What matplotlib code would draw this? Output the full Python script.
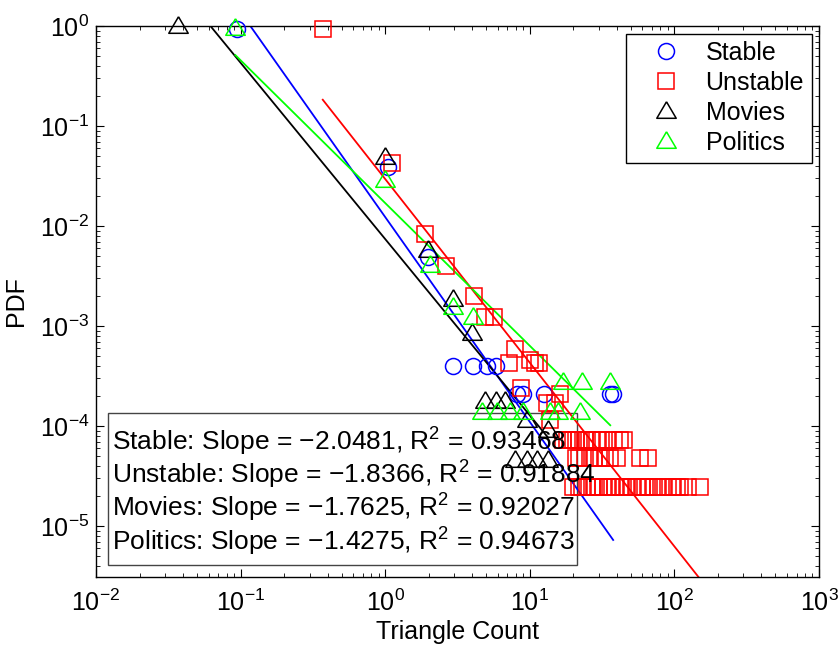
import matplotlib
matplotlib.use("Agg")
import matplotlib.pyplot as plt
from matplotlib.ticker import LogLocator, NullFormatter
from matplotlib.patches import Rectangle
import numpy as np

plt.rcParams['font.family'] = ['Liberation Sans', 'DejaVu Sans']
plt.rcParams['mathtext.fontset'] = 'custom'
plt.rcParams['mathtext.rm'] = 'Liberation Sans'
plt.rcParams['mathtext.it'] = 'Liberation Sans:italic'
plt.rcParams['mathtext.bf'] = 'Liberation Sans:bold'

# Stable
stable_x = [0.095, 1.05, 1.98, 2.95, 4.06, 5.07, 5.86, 8.2, 9.0, 12.6, 36, 37.7]
stable_y = [0.93, 0.039, 0.0049, 4e-4, 4e-4, 4e-4, 4e-4, 2.1e-4, 2.1e-4, 2.1e-4, 2.1e-4, 2.1e-4]

# Unstable
unstable_x = [0.37, 1.12, 1.89, 2.64, 4.12, 4.9, 5.67, 7.2, 7.9, 8.7, 10, 10.9, 11.6,
              13.2, 13.8, 15, 16.2]
unstable_y = [0.93, 0.043, 0.0083, 0.004, 0.002, 0.00123, 0.00123, 4.3e-4, 5.9e-4,
              2.4e-4, 4.6e-4, 4.3e-4, 4.3e-4, 1.7e-4, 1.15e-4, 1.7e-4, 2.1e-4]
unstable_x3 = [17, 18, 19, 20, 21, 22, 24, 25, 27, 29, 31, 34, 38, 42, 45]
unstable_x2 = [21, 22, 24, 26, 28, 30, 33, 36, 40, 58, 66]
unstable_x1 = [20, 22, 23, 25, 27, 28, 30, 32, 35, 37, 39, 42, 44, 47, 51, 55, 60,
               63, 67, 72, 77, 83, 90, 97, 105, 110, 124, 150]
unstable_row_y = [7.2e-5, 4.8e-5, 2.45e-5]

# Movies
movies_x = [0.037, 1.0, 1.98, 2.95, 4.0, 4.9, 5.8, 6.7, 9.6, 13.4, 7.9, 9.6, 11.2, 13.4]
movies_y = [1.0, 0.049, 0.0058, 0.00186, 8.5e-4, 1.8e-4, 1.8e-4, 1.8e-4, 1.15e-4,
            9.1e-5, 4.6e-5, 4.6e-5, 4.6e-5, 4.6e-5]

# Politics
politics_x = [0.092, 1.0, 2.05, 2.95, 4.05, 17, 23, 36, 4.69, 5.95, 7.3, 9.0, 13.8, 15.7, 22.3]
politics_y = [0.95, 0.029, 0.0041, 0.00155, 0.00123, 2.75e-4, 2.75e-4, 2.75e-4,
              1.38e-4, 1.38e-4, 1.38e-4, 1.38e-4, 1.38e-4, 1.38e-4, 1.38e-4]

names = ["Stable", "Unstable", "Movies", "Politics"]
slopes = [-2.0481, -1.8366, -1.7625, -1.4275]
r2 = [0.93468, 0.91884, 0.92027, 0.94673]
log_intercepts = [-1.91, -1.53, -2.13, -1.77]

colors = ["#0000ff", "#ff0000", "#000000", "#00ff00"]

# triangle un peu plus large que haut, comme sous MATLAB
tri = [(0, 1), (-1, -0.7), (1, -0.7), (0, 1)]

unstable_all_x = unstable_x + unstable_x3 + unstable_x2 + unstable_x1
unstable_all_y = (unstable_y + [unstable_row_y[0]] * len(unstable_x3)
                  + [unstable_row_y[1]] * len(unstable_x2)
                  + [unstable_row_y[2]] * len(unstable_x1))

series = [
    (stable_x, stable_y, 'o', 11.5),
    (unstable_all_x, unstable_all_y, 's', 11),
    (movies_x, movies_y, tri, 14),
    (politics_x, politics_y, tri, 14),
]

FS = 18

fig = plt.figure(figsize=(8.39, 6.47), dpi=100)
ax = fig.add_axes([0.1144, 0.1082, 0.8618, 0.8516])

handles = []
for (xs, ys, m, ms), c, name in zip(series, colors, names):
    h, = ax.plot(xs, ys, linestyle='none', marker=m, markersize=ms,
                 markerfacecolor='none', markeredgecolor=c, markeredgewidth=1.1,
                 label=name, clip_on=False, zorder=3)
    handles.append(h)

# droites de regression
for (xs, ys, m, ms), c, b, a in zip(series, colors, slopes, log_intercepts):
    xx = np.array([min(xs), max(xs)])
    yy = 10 ** a * xx ** b
    ax.plot(xx, yy, color=c, linewidth=1.3, zorder=2)

ax.set_xscale('log')
ax.set_yscale('log')
ax.set_xlim(1e-2, 1e3)
ax.set_ylim(3.1e-6, 1)

for axis in (ax.xaxis, ax.yaxis):
    axis.set_major_locator(LogLocator(base=10, numticks=20))
    axis.set_minor_locator(LogLocator(base=10, subs=np.arange(2, 10), numticks=20))
    axis.set_minor_formatter(NullFormatter())

ax.tick_params(which='both', direction='in', top=True, right=True, labelsize=FS)
ax.tick_params(which='major', length=6, width=0.8, pad=5)
ax.tick_params(which='minor', length=3, width=0.6)
ax.tick_params(axis='x', which='major', pad=9)
for s in ax.spines.values():
    s.set_linewidth(1.0)

ax.set_xlabel("Triangle Count", fontsize=FS, labelpad=3)
ax.set_ylabel("PDF", fontsize=FS, labelpad=8)

leg = ax.legend(handles=handles, loc='upper right', fontsize=FS, numpoints=1,
                fancybox=False, edgecolor='black', framealpha=1,
                borderaxespad=0.3, labelspacing=0.24, handlelength=2.6,
                handletextpad=0.3, borderpad=0.3)
leg.get_frame().set_linewidth(1.0)

# cadre des pentes
ax.add_patch(Rectangle((0.0166, 0.0218), 0.6487, 0.2758, transform=ax.transAxes,
                       facecolor='none', edgecolor='#444444', linewidth=1.0, zorder=1))
baselines = [0.2300, 0.1700, 0.1100, 0.0485]
for name, b, r, yb in zip(names, slopes, r2, baselines):
    txt = f"{name}: Slope = \u2212{abs(b):.4f}, R$^2$ = {r:.5f}"
    ax.text(0.0221, yb, txt, transform=ax.transAxes, fontsize=19,
            ha='left', va='baseline', zorder=4)

plt.savefig("out.png", dpi=100)
